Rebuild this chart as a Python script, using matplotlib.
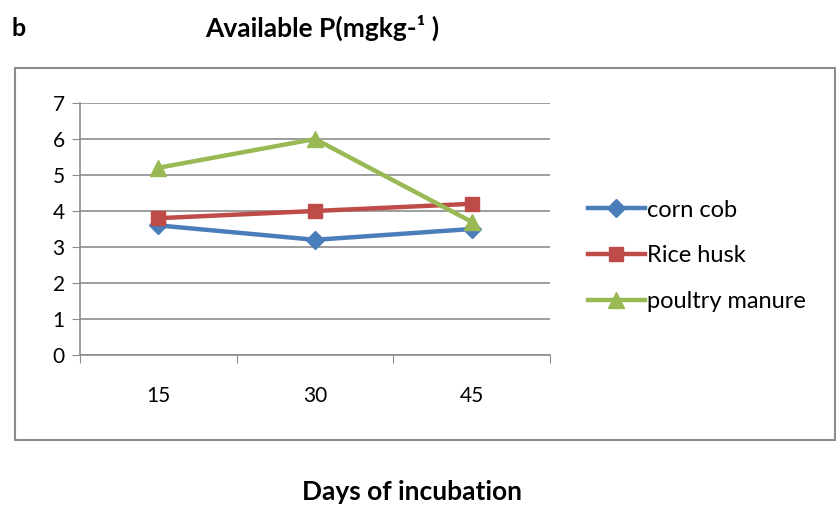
#!/usr/bin/env python3
"""
Available P over days of incubation (panel b)
"""

import matplotlib
matplotlib.use("Agg")
import matplotlib.pyplot as plt
from matplotlib.patches import Rectangle
import numpy as np

days = ["15", "30", "45"]
corn_cob = [3.6, 3.2, 3.5]
rice_husk = [3.8, 4.0, 4.2]
poultry_manure = [5.2, 6.0, 3.7]

plt.rcParams['font.family'] = ['Lato', 'DejaVu Sans']

fig = plt.figure(figsize=(8.37, 5.08), dpi=100)
ax = fig.add_axes([80 / 837, 1 - 355 / 508, 470 / 837, 252 / 508])

# outer chart frame
fig.patches.append(Rectangle((15 / 837, 1 - 440 / 508), 820 / 837, 372 / 508,
                             transform=fig.transFigure, fill=False,
                             edgecolor='#8c8c8c', linewidth=1.5))

x = np.arange(len(days)) + 0.5
series = [
    ('corn cob', corn_cob, '#4a7ebb', 'D', 9),
    ('Rice husk', rice_husk, '#be4b48', 's', 10),
    ('poultry manure', poultry_manure, '#98b954', '^', 11),
]
for name, vals, color, marker, ms in series:
    ax.plot(x, vals, color=color, marker=marker, markersize=ms,
            linewidth=3.2, label=name)

ax.set_xlim(0, 3)
ax.set_ylim(0, 7)
ax.set_yticks(range(0, 8))
ax.set_xticks([0, 1, 2, 3])
ax.set_xticklabels([])
ax.set_xticks(x, minor=True)
ax.set_xticklabels(days, minor=True)
ax.tick_params(axis='x', which='minor', length=0, pad=22, labelsize=15)
ax.tick_params(axis='x', which='major', length=6, color='#8c8c8c', direction='out')
ax.tick_params(axis='y', length=6, color='#8c8c8c', labelsize=15, pad=5)

ax.grid(axis='y', color='#8c8c8c', linewidth=1.2)
ax.set_axisbelow(True)
for s in ['top', 'right']:
    ax.spines[s].set_visible(False)
for s in ['left', 'bottom']:
    ax.spines[s].set_color('#8c8c8c')
    ax.spines[s].set_linewidth(1.2)

ax.legend(loc='center left', bbox_to_anchor=((588 - 80) / 470, (355 - 256) / 252),
          frameon=False, fontsize=17, handlelength=2.4, handletextpad=0.1,
          labelspacing=1.05, borderpad=0, borderaxespad=0)

fig.text(12 / 837, 1 - 28 / 508, 'b', fontsize=18, fontweight='bold',
         va='center', ha='left')
fig.text(205 / 837, 1 - 28 / 508, 'Available P(mgkg-\u00b9 )', fontsize=19,
         fontweight='bold', va='center', ha='left')
fig.text(412 / 837, 1 - 492 / 508, 'Days of incubation', fontsize=19,
         fontweight='bold', va='center', ha='center')

fig.savefig('out.png', dpi=100)
